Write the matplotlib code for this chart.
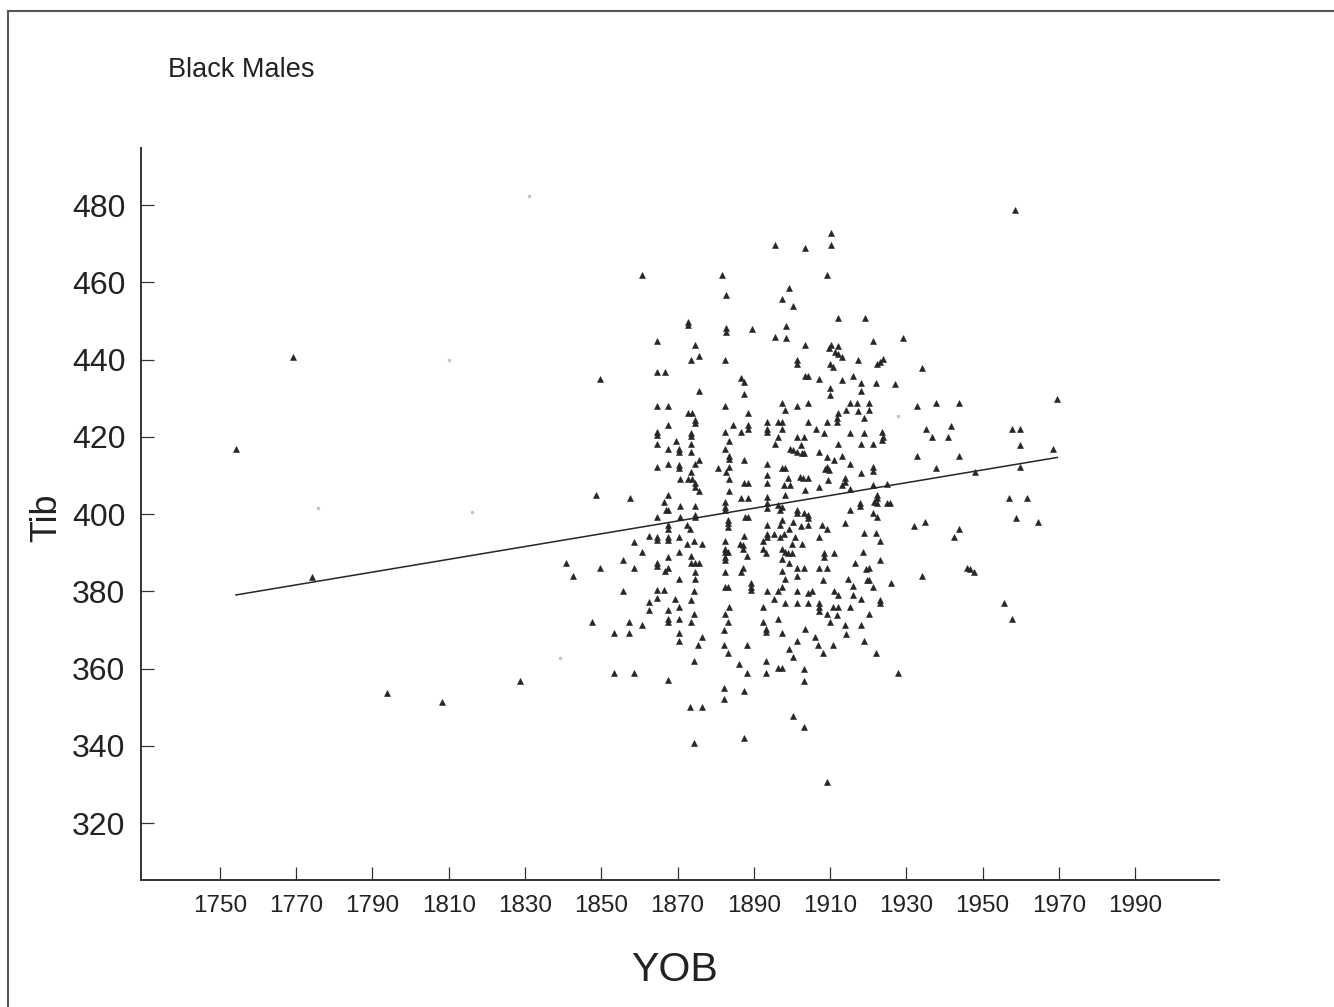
import numpy as np
import matplotlib
matplotlib.use("Agg")
import matplotlib.pyplot as plt
from matplotlib.lines import Line2D

plt.rcParams["font.family"] = ["Liberation Sans", "DejaVu Sans"]

# ---- data (year of birth, tibia length) ----
early_outliers = [
    (1754.2, 416.9), (1769.1, 440.8), (1774.1, 383.8), (1793.9, 353.6),
    (1808.2, 351.3), (1828.7, 356.8),
]

# 1840 - 1885
cluster_a = [
    (1860.8, 461.9), (1881.6, 461.9), (1882.6, 456.7), (1872.7, 449.8), (1872.7, 448.9),
    (1882.6, 448.1), (1882.6, 447.2), (1864.5, 444.9), (1874.6, 443.9), (1875.5, 440.9),
    (1873.5, 439.9), (1882.5, 439.9), (1849.7, 435.0), (1864.5, 436.9), (1866.7, 436.9),
    (1875.5, 431.9), (1864.7, 428.1), (1867.6, 428.1), (1882.5, 428.1), (1872.8, 426.1),
    (1873.7, 426.1), (1874.6, 424.4), (1874.6, 423.5), (1867.6, 423.1), (1864.7, 421.3),
    (1864.7, 420.5), (1873.5, 421.1), (1873.5, 420.2), (1882.5, 421.2), (1869.5, 419.0),
    (1883.5, 419.0), (1864.7, 418.1), (1873.5, 418.1), (1867.6, 417.0), (1870.5, 417.0),
    (1870.5, 416.2), (1882.5, 417.0), (1873.5, 416.0), (1883.5, 415.0), (1883.5, 414.2),
    (1875.5, 414.0), (1874.6, 413.1), (1864.7, 412.1), (1867.6, 413.0), (1870.5, 412.7),
    (1870.5, 411.9), (1880.5, 411.9), (1882.6, 411.0), (1883.5, 412.1), (1873.5, 411.0),
    (1870.7, 409.1), (1872.8, 409.1), (1873.7, 409.1), (1874.6, 408.0), (1874.6, 407.1),
    (1875.5, 406.1), (1883.6, 409.1), (1883.5, 406.1), (1848.6, 404.9), (1857.5, 404.1),
    (1867.6, 404.9), (1884.5, 423.1),
    (1866.5, 403.2), (1867.0, 401.2), (1867.6, 401.2), (1870.7, 402.1), (1874.6, 402.1),
    (1882.5, 403.2), (1882.5, 401.9), (1882.5, 401.1), (1864.5, 399.2), (1870.7, 399.2),
    (1874.6, 399.8), (1874.6, 399.2), (1867.6, 397.2), (1867.6, 396.3), (1872.4, 397.2),
    (1873.3, 396.3), (1883.3, 398.5), (1883.3, 397.6), (1883.3, 396.8), (1862.5, 394.3),
    (1864.5, 394.2), (1864.5, 393.3), (1867.4, 394.2), (1867.4, 393.3), (1870.4, 394.0),
    (1858.6, 392.9), (1872.4, 392.2), (1874.4, 393.0), (1876.5, 392.3), (1882.5, 393.0),
    (1860.6, 390.1), (1870.5, 390.1), (1882.5, 391.1), (1882.5, 390.3), (1883.3, 390.1),
    (1867.4, 389.0), (1873.5, 389.2), (1882.5, 389.0), (1882.5, 388.1), (1840.7, 387.3),
    (1849.7, 386.0), (1855.6, 388.1), (1858.7, 386.1), (1864.5, 387.4), (1864.5, 386.6),
    (1867.6, 386.1), (1866.7, 385.3), (1873.5, 387.3), (1874.6, 387.3), (1875.5, 387.3),
    (1874.6, 385.1), (1882.5, 385.1), (1842.7, 384.1), (1870.5, 383.2), (1874.6, 383.2),
    (1882.5, 381.2), (1883.3, 381.2), (1855.6, 380.2), (1864.5, 380.4), (1866.5, 380.4),
    (1874.4, 380.2), (1869.3, 378.1), (1864.5, 378.2), (1873.5, 377.9), (1862.5, 377.3),
    (1862.5, 375.2), (1867.4, 375.2), (1870.5, 376.0), (1883.5, 376.0), (1874.4, 374.2),
    (1882.5, 374.1), (1847.5, 372.1), (1857.4, 372.1), (1860.6, 371.3), (1867.4, 373.0),
    (1867.4, 372.2), (1870.5, 373.0), (1873.5, 372.0), (1883.3, 372.0), (1882.3, 370.0),
    (1853.4, 369.2), (1857.4, 369.2), (1870.4, 369.3), (1870.4, 367.2), (1876.5, 368.2),
    (1875.3, 366.1), (1882.3, 366.1), (1883.3, 364.1), (1874.4, 362.1), (1853.4, 359.0),
    (1858.6, 359.0), (1867.4, 357.1), (1882.3, 355.1), (1882.3, 352.1), (1873.3, 350.0),
    (1876.5, 350.0), (1874.4, 340.9),
]

# 1886 - 1928
cluster_b = [
    (1910.3, 472.7), (1910.3, 469.7), (1895.6, 469.8), (1903.3, 468.8), (1909.3, 461.9),
    (1899.3, 458.6), (1897.3, 455.7), (1900.4, 453.9), (1912.2, 450.9), (1919.2, 450.8),
    (1898.4, 448.8), (1889.5, 447.9), (1921.2, 444.8), (1895.6, 445.9), (1898.4, 445.7),
    (1903.4, 443.8), (1909.6, 443.1), (1910.3, 443.8), (1912.2, 443.6), (1911.3, 441.9),
    (1912.2, 441.4), (1913.1, 440.7), (1901.3, 439.9), (1901.3, 439.0), (1917.2, 439.9),
    (1922.2, 439.0), (1923.1, 439.4), (1924.0, 440.1), (1910.0, 439.0), (1910.9, 438.0),
    (1886.7, 435.3), (1887.4, 434.3), (1887.4, 431.1), (1903.4, 435.8), (1904.3, 435.8),
    (1907.2, 435.0), (1913.1, 434.7), (1916.1, 435.8), (1918.1, 434.0), (1922.1, 434.0),
    (1927.0, 433.8), (1910.0, 432.8), (1910.0, 430.8), (1918.1, 432.0), (1897.3, 428.9),
    (1904.3, 428.9), (1901.3, 428.1), (1898.2, 426.9), (1915.1, 428.9), (1917.0, 428.9),
    (1920.2, 428.9), (1914.1, 426.9), (1917.2, 426.8), (1920.2, 426.9), (1888.6, 426.1),
    (1888.6, 423.1), (1888.6, 422.0), (1912.2, 426.1), (1911.7, 424.8), (1911.7, 423.9),
    (1919.0, 424.9), (1893.4, 423.9), (1896.4, 423.9), (1897.3, 423.9), (1893.4, 422.0),
    (1893.4, 421.2), (1897.3, 422.0), (1904.3, 423.9), (1909.1, 423.9), (1886.7, 421.2),
    (1906.2, 422.0), (1908.3, 421.1), (1915.2, 421.1), (1919.0, 421.1), (1923.5, 421.3),
    (1924.0, 420.0), (1923.5, 419.2), (1896.4, 420.0), (1901.3, 420.0), (1903.2, 420.0),
    (1895.6, 418.2), (1902.3, 417.9), (1912.2, 418.2), (1918.1, 418.2), (1921.2, 418.2),
    (1899.5, 416.9), (1900.4, 416.6), (1901.3, 416.2), (1902.6, 415.9), (1903.2, 415.9),
    (1907.2, 416.2), (1909.3, 414.9), (1911.1, 414.0), (1913.1, 415.0), (1887.4, 414.0),
    (1893.4, 412.9), (1893.4, 410.1), (1893.4, 408.0), (1897.3, 411.9), (1898.2, 411.9),
    (1909.1, 412.3), (1908.7, 411.6), (1909.6, 411.4), (1915.1, 412.9), (1921.2, 412.3),
    (1921.2, 411.2), (1913.9, 409.3), (1913.9, 408.4), (1913.1, 407.5), (1898.9, 409.3),
    (1897.8, 407.5), (1899.5, 407.5), (1902.1, 409.7), (1903.0, 409.3), (1904.1, 409.3),
    (1907.2, 407.1), (1909.4, 408.8), (1903.3, 406.2), (1898.2, 404.9), (1918.1, 410.7),
    (1921.2, 407.5), (1924.9, 407.8), (1886.7, 404.1), (1888.6, 404.1), (1887.4, 408.0),
    (1888.6, 408.0), (1893.4, 404.5), (1915.2, 406.4), (1922.2, 404.9), (1922.2, 404.1),
    (1893.4, 402.8), (1893.4, 401.5), (1896.4, 402.4), (1897.3, 401.9), (1896.9, 401.1),
    (1901.3, 401.1), (1901.3, 400.2), (1903.2, 400.2), (1904.1, 399.8), (1904.1, 398.9),
    (1917.9, 402.8), (1917.9, 402.1), (1921.4, 403.2), (1922.2, 403.0), (1924.9, 403.0),
    (1925.7, 402.8), (1915.1, 401.1), (1887.7, 399.2), (1888.6, 399.2), (1893.4, 397.2),
    (1897.3, 398.5), (1896.9, 397.2), (1900.4, 398.0), (1902.3, 397.0), (1904.3, 397.2),
    (1908.0, 397.2), (1909.1, 396.3), (1913.9, 397.8), (1921.2, 400.2), (1922.2, 399.3),
    (1919.0, 395.2), (1922.1, 395.2), (1887.4, 394.3), (1893.4, 395.0), (1893.4, 394.2),
    (1895.4, 395.0), (1896.9, 394.2), (1897.8, 395.0), (1899.2, 396.1), (1900.8, 394.2),
    (1907.1, 394.2), (1923.1, 393.0), (1886.4, 392.4), (1887.3, 392.0), (1887.3, 391.1),
    (1892.3, 393.1), (1892.3, 390.9), (1893.2, 389.9), (1897.3, 391.1), (1898.2, 390.3),
    (1899.9, 392.2), (1902.6, 392.2), (1899.1, 389.9), (1899.9, 389.9), (1888.3, 389.2),
    (1908.3, 389.9), (1908.3, 389.0), (1911.1, 390.0), (1918.6, 390.1), (1897.3, 388.3),
    (1899.3, 387.3), (1923.1, 388.1), (1916.6, 387.4), (1887.3, 386.0), (1886.6, 385.1),
    (1897.3, 385.4), (1901.3, 386.0), (1903.2, 386.0), (1901.3, 384.0), (1907.1, 386.0),
    (1909.1, 386.0), (1919.4, 385.8), (1920.3, 386.0), (1898.2, 383.2), (1908.1, 382.9),
    (1914.8, 383.1), (1919.6, 382.9), (1920.3, 382.9), (1926.0, 382.3), (1889.2, 382.1),
    (1889.2, 381.2), (1889.2, 380.4), (1896.4, 380.2), (1897.3, 381.2), (1893.4, 380.2),
    (1901.3, 380.2), (1904.3, 379.5), (1905.2, 380.2), (1911.1, 380.2), (1912.0, 379.1),
    (1916.1, 381.4), (1916.1, 379.2), (1921.2, 381.2), (1895.4, 378.0), (1898.2, 377.1),
    (1901.3, 377.1), (1904.1, 377.1), (1907.2, 376.9), (1907.2, 375.9), (1907.2, 375.0),
    (1918.0, 378.0), (1923.1, 377.8), (1923.1, 376.9), (1892.3, 376.0), (1910.9, 376.0),
    (1912.2, 376.0), (1915.1, 376.0), (1909.1, 374.1), (1911.9, 373.9), (1920.1, 374.1),
    (1896.4, 373.0), (1892.3, 372.0), (1910.0, 372.0), (1913.9, 371.2), (1918.1, 371.2),
    (1893.2, 370.4), (1893.2, 369.4), (1897.3, 369.3), (1903.3, 370.2), (1914.1, 369.0),
    (1906.1, 368.3), (1901.3, 367.2), (1919.0, 367.2), (1888.3, 366.1), (1899.2, 365.1),
    (1906.9, 366.1), (1910.9, 366.1), (1900.2, 363.1), (1908.1, 364.0), (1922.0, 364.0),
    (1886.2, 361.1), (1893.2, 362.1), (1888.3, 359.0), (1893.2, 359.0), (1896.3, 360.1),
    (1897.3, 360.1), (1903.2, 359.9), (1927.9, 358.8), (1903.2, 356.9), (1887.4, 354.2),
    (1900.2, 347.8), (1903.2, 344.8), (1887.4, 342.0), (1909.1, 330.6),
]

# 1929 - 1970
cluster_c = [
    (1958.5, 478.7), (1929.1, 445.7), (1934.0, 437.9), (1932.9, 428.1), (1937.8, 428.8),
    (1943.7, 428.9), (1935.1, 422.0), (1941.7, 422.9), (1936.8, 419.9), (1940.9, 419.9),
    (1957.7, 422.0), (1959.8, 422.0), (1959.8, 417.9), (1969.5, 429.8), (1968.5, 416.9),
    (1932.9, 415.0), (1943.7, 415.0), (1937.8, 412.0), (1947.9, 411.0), (1959.8, 412.1),
    (1956.8, 404.1), (1961.6, 404.1), (1958.7, 398.9), (1964.6, 397.9), (1931.9, 397.0),
    (1934.8, 398.0), (1943.7, 396.1), (1942.6, 394.0), (1945.9, 386.1), (1946.7, 385.9),
    (1947.8, 385.1), (1934.0, 383.9), (1955.6, 376.9), (1957.7, 372.9),
]

# very light (barely printed) marks
faint_marks = [
    (1831.0, 482.5), (1810.1, 440.0), (1775.6, 401.6), (1816.0, 400.7),
    (1839.2, 362.7), (1927.8, 425.5),
]

# regression line as drawn
fit_years = [1754.2, 1969.6]
fit_tib = [379.1, 414.7]

x_ticks = list(range(1750, 1991, 20))
y_ticks = list(range(320, 481, 20))

points = np.array(early_outliers + cluster_a + cluster_b + cluster_c)
faint = np.array(faint_marks)

ink = "#262626"

fig = plt.figure(figsize=(13.34, 10.07), dpi=100)
ax = fig.add_axes([0.1057, 0.1261, 0.8081, 0.7269])

ax.plot(points[:, 0], points[:, 1], linestyle="none", marker="^",
        markersize=5.0, color=ink, markeredgewidth=0.4, markeredgecolor=ink, zorder=3)
ax.plot(faint[:, 0], faint[:, 1], linestyle="none", marker=".",
        markersize=3, color="#c4c4c4", zorder=2)
ax.plot(fit_years, fit_tib, color=ink, linewidth=1.1, zorder=4)

ax.set_xlim(1729.3, 2012)
ax.set_ylim(305.3, 494.8)
ax.set_xticks(x_ticks)
ax.set_yticks(y_ticks)

for side in ("top", "right"):
    ax.spines[side].set_visible(False)
for side in ("left", "bottom"):
    ax.spines[side].set_linewidth(1.4)
    ax.spines[side].set_color("#333333")

ax.tick_params(axis="both", direction="in", length=9.5, width=0.9, colors="#333333")
ax.tick_params(axis="x", labelsize=17.5, pad=11, labelcolor="#222222")
ax.tick_params(axis="y", labelsize=23, pad=11.3, labelcolor="#222222")

ax.set_xlabel("YOB", fontsize=29.5, color="#222222", va="center")
ax.xaxis.set_label_coords(0.4949, -0.123)
ax.set_ylabel("Tib", fontsize=26, color="#222222", va="center")
ax.yaxis.set_label_coords(-0.0872, 0.4945)

fig.text(0.126, 0.9305, "Black Males", fontsize=19.5, color="#222222",
         ha="left", va="center")

# page frame (top and left edges of the scanned box)
fig.add_artist(Line2D([0.006, 1.0], [0.9894, 0.9894], color="#555555", linewidth=1.5))
fig.add_artist(Line2D([0.006, 0.006], [0.0, 0.9894], color="#555555", linewidth=1.5))

fig.savefig("out.png", dpi=100)
